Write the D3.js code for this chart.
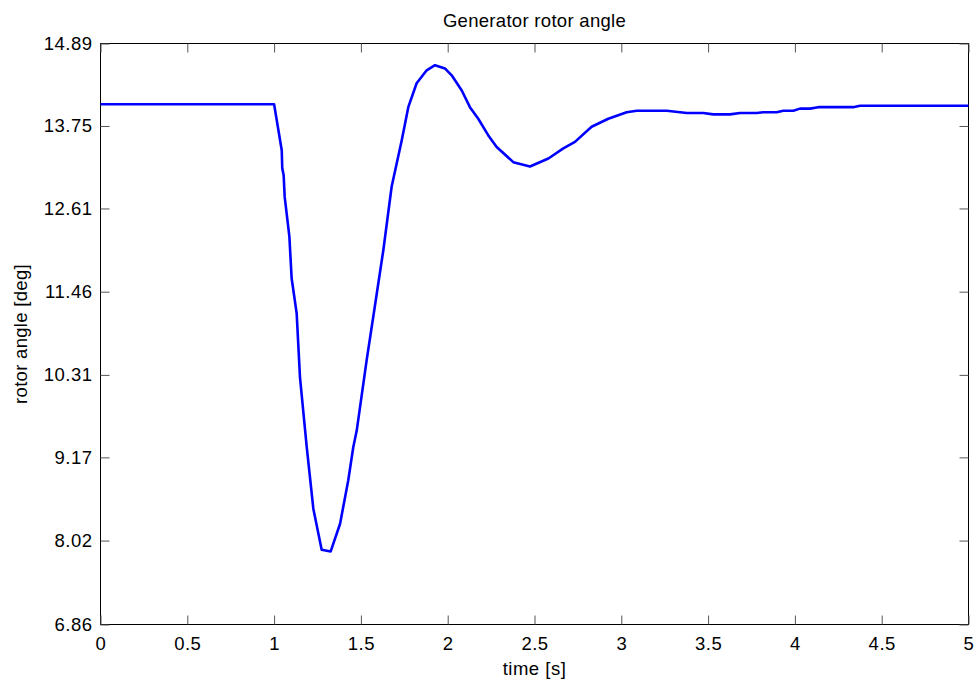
<!DOCTYPE html>
<html><head><meta charset="utf-8">
<script src="https://cdn.jsdelivr.net/npm/d3@7"></script>
<style>
body{margin:0;background:#fff;}
text{font-family:"Liberation Sans",Arial,sans-serif;fill:#000;}
</style></head>
<body><svg id="c" width="977" height="681"></svg>
<script>
const timeS = [0,1.0,1.044,1.047,1.055,1.061,1.088,1.101,1.130,1.149,1.188,1.226,1.274,1.326,1.380,1.427,1.456,1.476,1.533,1.571,1.629,1.677,1.735,1.773,1.821,1.879,1.927,1.984,2.023,2.081,2.128,2.176,2.234,2.282,2.378,2.474,2.580,2.666,2.733,2.829,2.925,3.031,3.089,3.262,3.377,3.472,3.530,3.626,3.684,3.780,3.818,3.895,3.933,3.991,4.029,4.087,4.135,4.336,4.375,5.0];
const rotorAngle = [14.05,14.05,13.415,13.166,13.07,12.77,12.22,11.645,11.16,10.28,9.31,8.46,7.893,7.87,8.253,8.85,9.31,9.54,10.51,11.11,12.03,12.91,13.55,14.01,14.34,14.52,14.59,14.545,14.45,14.24,14.01,13.85,13.62,13.46,13.25,13.19,13.30,13.44,13.53,13.74,13.85,13.94,13.96,13.96,13.93,13.93,13.91,13.91,13.93,13.93,13.94,13.94,13.96,13.96,13.99,13.99,14.01,14.01,14.03,14.03];
const xTicks = [0,0.5,1,1.5,2,2.5,3,3.5,4,4.5,5];
const yTicks = [6.86,8.02,9.17,10.31,11.46,12.61,13.75,14.89];
const yDomain = [6.86,14.89];
const titleText = "Generator rotor angle";
const xLabel = "time [s]";
const yLabel = "rotor angle [deg]";

const L=100.5, R=968.5, T=43.5, B=624.5;
const svg=d3.select("#c");
const x=d3.scaleLinear().domain([0,5]).range([L,R]);
const y=d3.scaleLinear().domain(yDomain).range([B,T]);
const fs=18.5;

svg.append("rect").attr("x",L).attr("y",T).attr("width",R-L).attr("height",B-T)
  .attr("fill","none").attr("stroke","#000").attr("stroke-width",1);

const tickLen=9;
const gx=svg.append("g").attr("transform",`translate(0,${B})`)
  .call(d3.axisBottom(x).tickValues(xTicks).tickSizeInner(-tickLen).tickSizeOuter(0).tickPadding(12).tickFormat(d3.format("")));
const gxt=svg.append("g").attr("transform",`translate(0,${T})`)
  .call(d3.axisTop(x).tickValues(xTicks).tickSizeInner(-tickLen).tickSizeOuter(0).tickFormat(""));
const gy=svg.append("g").attr("transform",`translate(${L},0)`)
  .call(d3.axisLeft(y).tickValues(yTicks).tickSizeInner(-tickLen).tickSizeOuter(0).tickPadding(8).tickFormat(d3.format(".2f")));
const gyr=svg.append("g").attr("transform",`translate(${R},0)`)
  .call(d3.axisRight(y).tickValues(yTicks).tickSizeInner(-tickLen).tickSizeOuter(0).tickFormat(""));
[gx,gxt,gy,gyr].forEach(g=>{
  g.select(".domain").remove();
  g.selectAll(".tick line").attr("stroke","#555");
  g.selectAll("text").attr("font-size",fs).attr("font-family","Liberation Sans, Arial, sans-serif").attr("fill","#000").style("letter-spacing","0.5px");
});
gx.selectAll("text").attr("dy","0.71em");

svg.append("path").datum(timeS.map((t,i)=>[t,rotorAngle[i]]))
  .attr("fill","none").attr("stroke","#0000ff").attr("stroke-width",2.6)
  .attr("stroke-linejoin","round")
  .attr("d",d3.line().x(d=>x(d[0])).y(d=>y(d[1])));

svg.append("text").attr("x",(L+R)/2).attr("y",27).attr("text-anchor","middle").attr("font-size",fs).style("letter-spacing","0.3px").text(titleText);
svg.append("text").attr("x",(L+R)/2).attr("y",675).attr("text-anchor","middle").attr("font-size",fs).style("letter-spacing","0.5px").text(xLabel);
svg.append("text").attr("transform",`translate(27,${(T+B)/2}) rotate(-90)`).attr("text-anchor","middle").attr("font-size",fs).style("letter-spacing","0.3px").text(yLabel);
</script></body></html>
